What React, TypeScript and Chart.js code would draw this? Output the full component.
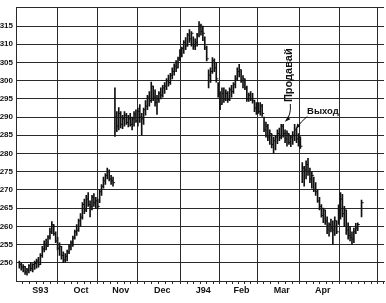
import React, { useEffect, useRef } from "react";
import { Chart, registerables } from "chart.js";

Chart.register(...registerables);

// Month labels and month boundaries (x axis is in trading-day units)
const MONTH_LABELS = ["S93", "Oct", "Nov", "Dec", "J94", "Feb", "Mar", "Apr"];
const MONTH_BOUNDS = [0, 22, 42.5, 63.5, 86, 106.5, 126, 148.5, 169, 189];
const Y_LABELS = [250, 255, 260, 265, 270, 275, 280, 285, 290, 295, 300, 305, 310, 315];
const Y_MIN = 245;
const Y_MAX = 320;

// Daily bars: low / high / close (index = trading day)
const LOWS = [
  248.5, 248.0, 247.5, 246.8, 246.6, 247.2, 247.8, 247.5, 248.2, 248.5,
  248.8, 249.5, 251.5, 253.0, 253.5, 254.5, 256.5, 258.0, 257.5, 255.5,
  253.5, 252.0, 251.0, 250.0, 250.2, 250.5, 252.5, 253.5, 254.5, 256.5,
  257.5, 258.6, 260.0, 262.0, 263.5, 264.0, 265.5, 262.6, 264.5, 265.5,
  265.0, 264.8, 266.5, 268.5, 270.5, 271.5, 273.0, 272.5, 271.5, 271.0,
  284.7, 286.0, 286.5, 287.0, 286.8, 287.5, 288.0, 287.3, 287.5, 286.5,
  287.5, 288.5, 287.5, 288.5, 285.0, 288.0, 290.5, 292.0, 293.0, 294.0,
  294.5, 293.0, 290.7, 294.0, 295.0, 295.5, 296.5, 297.5, 298.5, 299.0,
  300.5, 301.5, 302.5, 303.5, 305.5, 306.5, 307.5, 308.5, 309.5, 310.5,
  309.5, 308.6, 308.5, 309.5, 312.0, 312.5, 311.0, 308.5, 305.4, 298.0,
  299.5, 302.0, 302.5, 299.6, 295.5, 292.0, 293.5, 294.0, 294.5, 294.0,
  294.5, 295.5, 296.5, 298.0, 300.0, 301.0, 299.5, 298.0, 297.5, 294.3,
  294.3, 294.5, 293.8, 291.5, 290.7, 291.0, 290.5, 290.2, 286.0, 284.5,
  283.5, 282.5, 281.5, 280.0, 281.0, 282.7, 283.5, 284.0, 284.5, 283.0,
  282.0, 282.5, 281.9, 282.5, 283.5, 283.0, 282.0, 281.4, 272.0, 271.0,
  273.0, 274.0, 272.0, 270.5, 269.5, 268.5, 266.6, 264.5, 262.5, 261.0,
  260.5, 258.0, 257.3, 258.5, 255.0, 257.5, 258.0, 260.5, 262.0, 262.6,
  260.0, 257.8, 256.5, 256.0, 255.0, 255.5, 258.0, 258.8, null, 262.6,
];
const HIGHS = [
  250.5, 250.0, 249.5, 249.0, 248.5, 249.5, 250.0, 249.8, 250.5, 251.0,
  251.5, 252.5, 254.5, 256.0, 256.5, 257.5, 259.5, 261.3, 260.5, 258.5,
  257.0, 255.5, 254.5, 253.0, 252.5, 253.5, 255.0, 256.0, 257.3, 259.0,
  260.5, 262.0, 263.5, 266.5, 267.5, 268.5, 269.3, 267.0, 268.5, 269.0,
  268.0, 267.5, 270.0, 271.5, 273.5, 274.5, 276.0, 275.5, 274.0, 273.5,
  298.0, 291.5, 292.6, 291.5, 290.5, 291.5, 291.0, 290.5, 291.0, 290.0,
  291.5, 292.0, 292.5, 293.4, 291.0, 292.5, 294.5, 296.0, 297.0, 299.6,
  298.5, 297.5, 296.0, 297.0, 298.0, 298.7, 299.5, 300.6, 301.5, 302.0,
  303.5, 304.6, 305.5, 306.5, 308.5, 309.2, 311.0, 311.8, 313.0, 314.0,
  313.5, 312.0, 311.5, 313.0, 316.2, 315.5, 315.0, 312.0, 309.5, 303.0,
  303.5, 306.3, 306.0, 305.0, 299.5, 297.0, 298.0, 298.0, 297.5, 297.0,
  298.0, 298.7, 299.5, 301.4, 303.5, 304.5, 303.0, 301.4, 300.5, 298.5,
  296.6, 297.0, 296.5, 294.7, 294.0, 294.0, 294.0, 293.5, 290.0, 288.6,
  288.0, 286.5, 285.4, 284.5, 285.0, 286.5, 287.0, 288.0, 288.0, 286.5,
  286.2, 285.5, 285.0, 286.0, 288.0, 287.0, 285.5, 284.6, 277.5, 276.5,
  278.0, 278.7, 276.0, 275.0, 273.5, 272.0, 270.0, 268.0, 266.0, 265.0,
  264.5, 262.6, 261.0, 262.0, 261.5, 262.6, 261.5, 265.9, 269.3, 268.8,
  265.5, 264.5, 261.0, 260.0, 258.5, 259.5, 260.8, 261.0, null, 267.2,
];
const CLOSES = [
  249.5, 248.8, 249.0, 247.5, 248.0, 249.2, 248.5, 249.5, 249.8, 250.5,
  249.5, 252.0, 253.8, 255.0, 254.5, 257.0, 258.5, 260.5, 258.0, 256.0,
  254.0, 254.5, 252.0, 250.8, 251.8, 253.0, 254.5, 255.5, 256.8, 258.5,
  259.0, 261.5, 262.5, 266.0, 264.5, 267.5, 266.0, 265.5, 268.0, 266.5,
  267.0, 265.5, 269.5, 271.0, 272.5, 274.0, 275.0, 273.0, 272.5, 272.0,
  290.0, 287.5, 291.0, 288.0, 289.5, 290.5, 288.5, 289.5, 288.0, 289.5,
  290.8, 289.0, 291.5, 290.0, 289.5, 292.0, 293.0, 295.5, 294.5, 298.5,
  295.5, 294.0, 295.0, 296.5, 296.0, 298.0, 298.5, 300.0, 299.5, 301.5,
  302.5, 304.0, 303.5, 306.0, 307.5, 308.8, 310.5, 309.5, 312.5, 311.5,
  313.0, 309.5, 310.5, 312.5, 315.0, 313.5, 313.0, 309.0, 306.0, 301.5,
  302.5, 305.5, 303.5, 300.5, 296.5, 293.5, 296.5, 295.0, 296.5, 294.8,
  297.5, 297.0, 299.0, 300.5, 302.5, 303.0, 300.0, 300.5, 298.0, 295.0,
  296.0, 295.0, 294.5, 292.5, 293.5, 291.5, 293.0, 291.0, 286.5, 287.5,
  284.5, 285.5, 282.5, 283.5, 284.5, 285.5, 284.5, 287.5, 285.5, 284.0,
  285.5, 283.0, 284.5, 285.0, 286.5, 284.0, 284.5, 282.0, 276.0, 275.5,
  277.0, 275.0, 273.0, 274.0, 270.0, 269.5, 267.0, 265.5, 263.0, 264.5,
  261.5, 259.0, 260.5, 259.5, 259.0, 261.5, 258.5, 264.5, 267.5, 263.5,
  264.5, 259.0, 257.5, 257.0, 256.5, 258.5, 259.5, 260.5, null, 266.5,
];

// Annotations (in data coordinates)
const NOTES = [
  { text: "Продавай", x: 141.3, y: 301.5, rotate: true, size: 11 },
  { text: "Выход", x: 158.8, y: 291.6, rotate: false, size: 9.5 },
];
const ARROWS = [
  { from: [141.75, 293.6], ctrl: [142.3, 290.5], to: [139.2, 288.8] },
  { from: [150.7, 290.2], ctrl: [147.4, 288.9], to: [144.8, 286.8] },
];

const FONT = '"Liberation Sans", Arial, sans-serif';
const INK = "#111111";
const GRID = "#2a2a2a";

type XTick = { value: number; kind: "major" | "minor" | "label"; label: string };

function buildXTicks(): XTick[] {
  const out: XTick[] = [];
  for (let i = 0; i < MONTH_BOUNDS.length; i++) {
    const b = MONTH_BOUNDS[i];
    out.push({ value: b, kind: "major", label: "" });
    if (i < MONTH_BOUNDS.length - 1) {
      const next = MONTH_BOUNDS[i + 1];
      for (let k = 1; k < 6; k++) {
        const v = b + ((next - b) * k) / 6;
        if (k === 3) out.push({ value: v, kind: "label", label: MONTH_LABELS[i] || "" });
        else out.push({ value: v, kind: "minor", label: "" });
      }
    }
  }
  return out.sort((a, b) => a.value - b.value);
}

const notesPlugin = {
  id: "notes",
  afterDatasetsDraw(chart: any) {
    const { ctx } = chart;
    const xs = chart.scales.x;
    const ys = chart.scales.y;
    ctx.save();
    ctx.fillStyle = INK;
    ctx.strokeStyle = INK;
    ctx.lineWidth = 1;
    for (const n of NOTES) {
      const px = xs.getPixelForValue(n.x);
      const py = ys.getPixelForValue(n.y);
      ctx.font = `bold ${n.size}px ${FONT}`;
      ctx.textAlign = "center";
      ctx.textBaseline = "middle";
      ctx.save();
      ctx.translate(px, py);
      if (n.rotate) ctx.rotate(-Math.PI / 2);
      ctx.fillText(n.text, 0, 0);
      ctx.restore();
    }
    for (const a of ARROWS) {
      const x0 = xs.getPixelForValue(a.from[0]);
      const y0 = ys.getPixelForValue(a.from[1]);
      const xc = xs.getPixelForValue(a.ctrl[0]);
      const yc = ys.getPixelForValue(a.ctrl[1]);
      const x1 = xs.getPixelForValue(a.to[0]);
      const y1 = ys.getPixelForValue(a.to[1]);
      ctx.beginPath();
      ctx.moveTo(x0, y0);
      ctx.quadraticCurveTo(xc, yc, x1, y1);
      ctx.stroke();
      const ang = Math.atan2(y1 - yc, x1 - xc);
      const L = 5;
      const W = 2;
      const bx = x1 - L * Math.cos(ang);
      const by = y1 - L * Math.sin(ang);
      ctx.beginPath();
      ctx.moveTo(x1, y1);
      ctx.lineTo(bx + W * Math.sin(ang), by - W * Math.cos(ang));
      ctx.lineTo(bx - W * Math.sin(ang), by + W * Math.cos(ang));
      ctx.closePath();
      ctx.fill();
    }
    ctx.restore();
  },
};

export default function App() {
  const ref = useRef<HTMLCanvasElement | null>(null);

  useEffect(() => {
    if (!ref.current) return;
    const xTicks = buildXTicks();
    const bars: any[] = [];
    const closes: any[] = [];
    for (let i = 0; i < HIGHS.length; i++) {
      const h = HIGHS[i];
      const l = LOWS[i];
      const c = CLOSES[i];
      if (h == null || l == null) continue;
      bars.push({ x: i, y: [l, h] });
      if (c != null) closes.push({ x: i + 0.55, y: c });
    }

    const chart = new Chart(ref.current, {
      type: "bar",
      data: {
        datasets: [
          {
            type: "bar",
            data: bars,
            backgroundColor: INK,
            borderWidth: 0,
            barThickness: 1,
          } as any,
          {
            type: "scatter",
            data: closes,
            showLine: false,
            pointStyle: "line",
            pointRadius: 1,
            pointHoverRadius: 1,
            pointBorderWidth: 1,
            borderColor: INK,
            backgroundColor: INK,
          } as any,
        ],
      },
      options: {
        animation: false,
        responsive: true,
        maintainAspectRatio: false,
        events: [],
        layout: { padding: { top: 1, right: 2, left: 0, bottom: 0 } },
        plugins: {
          legend: { display: false },
          tooltip: { enabled: false },
        },
        scales: {
          x: {
            type: "linear",
            min: MONTH_BOUNDS[0],
            max: MONTH_BOUNDS[MONTH_BOUNDS.length - 1],
            afterBuildTicks: (s: any) => {
              s.ticks = xTicks.map((t) => ({ value: t.value }));
            },
            afterFit: (s: any) => {
              s.height = 22;
            },
            ticks: {
              autoSkip: false,
              maxRotation: 0,
              minRotation: 0,
              padding: 1,
              color: INK,
              font: { family: FONT, size: 9, weight: "bold" },
              callback: (_v: any, i: number) => (xTicks[i] ? xTicks[i].label : ""),
            },
            grid: {
              color: (c: any) => (xTicks[c.index] && xTicks[c.index].kind === "major" ? GRID : "rgba(0,0,0,0)"),
              tickColor: GRID,
              tickLength: 3,
              lineWidth: 1,
            },
            border: { display: true, color: GRID, width: 1 },
          } as any,
          y: {
            type: "linear",
            min: Y_MIN,
            max: Y_MAX,
            afterFit: (s: any) => {
              s.width = 16;
            },
            ticks: {
              stepSize: 5,
              padding: 3,
              autoSkip: false,
              color: INK,
              font: { family: FONT, size: 8, weight: "bold" },
              callback: (v: any) => (Y_LABELS.includes(Number(v)) ? String(v) : ""),
            },
            grid: { color: GRID, drawTicks: false, lineWidth: 1 },
            border: { display: true, color: GRID, width: 1 },
          } as any,
        },
      },
      plugins: [notesPlugin],
    });
    return () => chart.destroy();
  }, []);

  return (
    <div style={{ position: "fixed", left: 0, top: 0, width: 386, height: 303, background: "#fff" }}>
      <canvas ref={ref} />
    </div>
  );
}
